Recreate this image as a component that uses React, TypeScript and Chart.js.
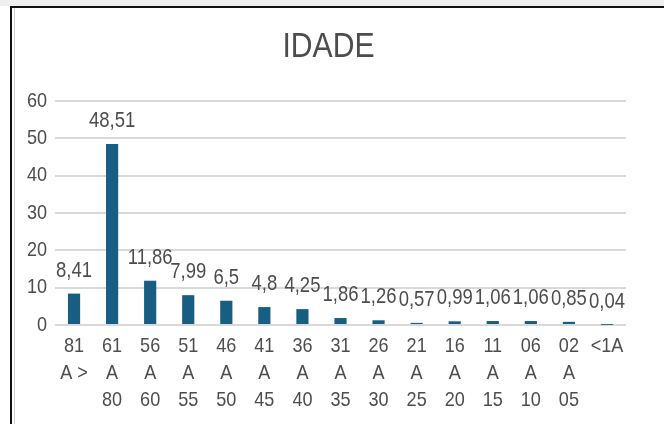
import React, { useEffect, useRef } from "react";
import { Chart, registerables } from "chart.js";

Chart.register(...registerables);

const categories: string[][] = [
  ["81", "A >"],
  ["61", "A", "80"],
  ["56", "A", "60"],
  ["51", "A", "55"],
  ["46", "A", "50"],
  ["41", "A", "45"],
  ["36", "A", "40"],
  ["31", "A", "35"],
  ["26", "A", "30"],
  ["21", "A", "25"],
  ["16", "A", "20"],
  ["11", "A", "15"],
  ["06", "A", "10"],
  ["02", "A", "05"],
  ["<1A"],
];
const values: number[] = [8.41, 48.51, 11.86, 7.99, 6.5, 4.8, 4.25, 1.86, 1.26, 0.57, 0.99, 1.06, 1.06, 0.85, 0.04];
const yTicks: number[] = [0, 10, 20, 30, 40, 50, 60];
const title = "IDADE";

const FONT = "'Liberation Sans', Arial, sans-serif";
const TEXT = "#4d4d4d";
const SX = 0.86;

function drawText(ctx: CanvasRenderingContext2D, txt: string, x: number, y: number, size: number, align: CanvasTextAlign) {
  ctx.save();
  ctx.translate(x, y);
  ctx.scale(SX, 1);
  ctx.font = `${size}px ${FONT}`;
  ctx.fillStyle = TEXT;
  ctx.textAlign = align;
  ctx.textBaseline = "middle";
  ctx.fillText(txt, 0, 0);
  ctx.restore();
}

const textPlugin = {
  id: "textPlugin",
  afterDraw(chart: any) {
    const ctx = chart.ctx as CanvasRenderingContext2D;
    const xs = chart.scales.x;
    const ys = chart.scales.y;
    const area = chart.chartArea;
    drawText(ctx, title, 328.5, 47.5, 35, "center");
    yTicks.forEach((v) => {
      drawText(ctx, String(v), area.left - 8, ys.getPixelForValue(v), 21, "right");
    });
    categories.forEach((lines, i) => {
      const x = xs.getPixelForValue(i);
      lines.forEach((ln, j) => {
        drawText(ctx, ln, x, area.bottom + 21 + j * 27, 21, "center");
      });
    });
    const meta = chart.getDatasetMeta(0);
    meta.data.forEach((el: any, i: number) => {
      const txt = String(values[i]).replace(".", ",");
      drawText(ctx, txt, el.x, el.y - 23, 21.5, "center");
    });
  },
};

export default function App() {
  const ref = useRef<HTMLCanvasElement | null>(null);
  useEffect(() => {
    if (!ref.current) return;
    const chart = new Chart(ref.current, {
      type: "bar",
      data: {
        labels: categories.map((c) => c.join(" ")),
        datasets: [
          {
            data: values,
            backgroundColor: "#175e82",
            categoryPercentage: 1,
            barPercentage: 0.32,
          },
        ],
      },
      options: {
        animation: false,
        responsive: false,
        layout: { padding: { top: 101, right: 38, bottom: 0, left: 0 } },
        plugins: {
          legend: { display: false },
          tooltip: { enabled: false },
          title: { display: false },
        },
        scales: {
          x: {
            grid: { display: false, drawTicks: false },
            border: { display: false },
            ticks: { display: false },
            afterFit: (s: any) => {
              s.height = 99;
            },
          },
          y: {
            min: 0,
            max: 60,
            afterBuildTicks: (s: any) => {
              s.ticks = yTicks.map((v) => ({ value: v }));
            },
            grid: { color: "#d9d9d9", lineWidth: 2, drawTicks: false },
            border: { display: false },
            ticks: { display: false },
            afterFit: (s: any) => {
              s.width = 55;
            },
          },
        },
      },
      plugins: [textPlugin],
    });
    return () => chart.destroy();
  }, []);

  return (
    <div style={{ position: "fixed", left: 0, top: 0, width: 664, height: 424, background: "#ffffff", overflow: "hidden" }}>
      <div style={{ position: "absolute", left: 0, top: 0, width: 664, height: 6, background: "#efefef" }} />
      <div style={{ position: "absolute", left: 10, top: 6, width: 654, height: 2, background: "#111111" }} />
      <div style={{ position: "absolute", left: 10, top: 6, width: 2, height: 418, background: "#111111" }} />
      <div style={{ position: "absolute", left: 14, top: 8, width: 1, height: 416, background: "#d0d0d0" }} />
      <canvas ref={ref} width={664} height={424} style={{ position: "absolute", left: 0, top: 0 }} />
    </div>
  );
}
